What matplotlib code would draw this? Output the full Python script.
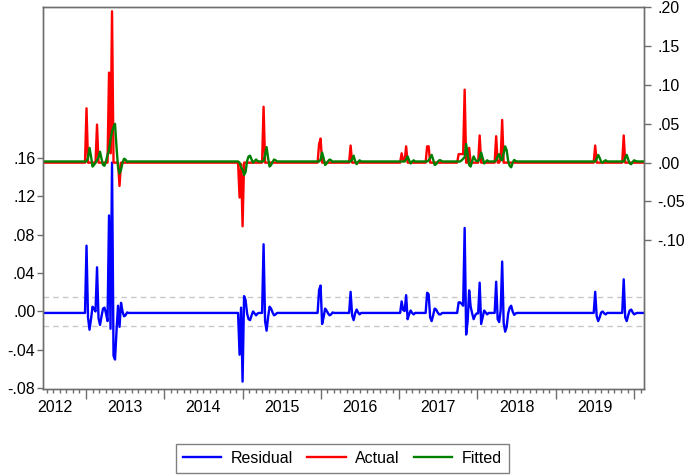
import numpy as np
import matplotlib
matplotlib.use('Agg')
import matplotlib.pyplot as plt
from matplotlib.ticker import MultipleLocator, FuncFormatter

plt.rcParams['font.family'] = ['Liberation Sans', 'DejaVu Sans']
plt.rcParams['font.size'] = 11.5

# weekly observations, decimal years
first_week = 2012.451
n_weeks = 401
week = 7 / 365.25

actual_base = 0.0
fitted_base = 0.0015

# runs of consecutive weekly values that leave the baseline
actual_starts = [2012.988, 2014.942, 2015.249, 2015.958, 2016.361, 2017.012,
                 2017.338, 2017.741, 2018.009, 2018.220, 2019.485, 2019.849]
actual_runs = [
    [0, 0.070, 0, 0, 0, 0, 0, 0, 0.049, 0, 0, 0, 0, 0, 0, 0, 0.116, 0.012, 0.195,
     0, 0, 0, 0, -0.030, 0],
    [0, -0.045, -0.002, -0.082, 0],
    [0, 0.072, 0],
    [0, 0.024, 0.031, 0],
    [0, 0.022, 0],
    [0, 0.012, 0.003, 0.002, 0.021, 0],
    [0, 0.021, 0.021, 0],
    [0, 0.011, 0.011, 0.011, 0.011, 0.094, 0, 0, 0.019, 0],
    [0, 0.035, 0],
    [0, 0.034, 0, 0, 0.005, 0.055, 0],
    [0, 0.022, 0],
    [0, 0.035, 0],
]

fitted_starts = [2012.988, 2014.942, 2015.268, 2015.997, 2016.399, 2017.089,
                 2017.376, 2017.798, 2018.220, 2019.523, 2019.887]
fitted_runs = [
    [0.0015, 0.0015, 0.006, 0.019, 0.008, -0.005, -0.003, 0.000, 0.003, 0.007,
     0.014, 0.005, -0.003, -0.004, 0.002, 0.010, 0.016, 0.030, 0.040, 0.046,
     0.050, 0.020, -0.006, -0.014, -0.009, 0.000, 0.005, 0.004, 0.001],
    [0.0015, 0.000, -0.006, -0.009, -0.016, -0.012, 0.002, 0.008, 0.009, 0.004,
     0.000, 0.002, 0.004, 0.002, 0.0015],
    [0.002, 0.010, 0.020, 0.006, -0.005, -0.003, 0.001, 0.004, 0.003, 0.0015],
    [0.004, 0.013, 0.006, -0.003, -0.001, 0.002, 0.004, 0.003, 0.001, 0.0015],
    [0.004, 0.009, 0.002, -0.002, 0.001, 0.003, 0.0015],
    [0.004, 0.008, 0.003, -0.001, 0.0015, 0.003, 0.0015],
    [0.003, 0.006, 0.010, 0.004, -0.003, -0.002, 0.001, 0.003, 0.003, 0.0015],
    [0.003, 0.005, 0.007, 0.024, 0.010, -0.003, -0.005, 0.002, 0.008, 0.004,
     0.002, 0.002, 0.005, 0.013, 0.006, -0.001, 0.001, 0.003, 0.0015],
    [0.0015, 0.003, 0.008, 0.011, 0.004, 0.003, 0.012, 0.021, 0.016, 0.002,
     -0.004, -0.006, 0.000, 0.0035, 0.002, 0.0015],
    [0.005, 0.010, 0.006, 0.001, 0.000, 0.002, 0.003, 0.0015],
    [0.006, 0.010, 0.004, -0.001, -0.002, 0.001, 0.003, 0.002, 0.0015],
]

year_labels = ['2012', '2013', '2014', '2015', '2016', '2017', '2018', '2019']
year_label_pos = [2012.604, 2013.5, 2014.5, 2015.5, 2016.5, 2017.5, 2018.5, 2019.5]
year_starts = [2013, 2014, 2015, 2016, 2017, 2018, 2019, 2020]
left_ticks = [-0.08, -0.04, 0.0, 0.04, 0.08, 0.12, 0.16]
right_ticks = [-0.10, -0.05, 0.0, 0.05, 0.10, 0.15, 0.20]
se_band = 0.015

# build the series
t = first_week + np.arange(n_weeks) * week
actual = np.full(n_weeks, actual_base)
fitted = np.full(n_weeks, fitted_base)
for start, vals in zip(actual_starts, actual_runs):
    i0 = int(round((start - first_week) / week))
    actual[i0:i0 + len(vals)] = vals
for start, vals in zip(fitted_starts, fitted_runs):
    i0 = int(round((start - first_week) / week))
    fitted[i0:i0 + len(vals)] = vals
residual = actual - fitted

fig = plt.figure(figsize=(6.85, 4.76), dpi=100)
ax = fig.add_axes([43 / 685, 86.7 / 476, 601 / 685, 382.3 / 476])
ax2 = ax.twinx()

spine_col = '#6e6e6e'

ax.axhline(se_band, color='#c8c8c8', lw=1, ls=(0, (4, 3)), zorder=1)
ax.axhline(-se_band, color='#c8c8c8', lw=1, ls=(0, (4, 3)), zorder=1)
l_res, = ax.plot(t, residual, color='#0000ff', lw=1.7, zorder=2)
l_act, = ax2.plot(t, actual, color='#ff0000', lw=1.7)
l_fit, = ax2.plot(t, fitted, color='#008000', lw=1.7)

ax.set_xlim(first_week, 2020.127)
ax.set_ylim(-0.081, 0.317)
ax2.set_ylim(-0.292, 0.2005)

fmt = FuncFormatter(lambda v, p: f"{v:.2f}".replace('0.', '.', 1))
ax.set_yticks(left_ticks)
ax.yaxis.set_major_formatter(fmt)
ax2.set_yticks(right_ticks)
ax2.yaxis.set_major_formatter(fmt)

ax.set_xticks(year_starts)
ax.set_xticklabels([''] * len(year_starts))
ax.xaxis.set_minor_locator(MultipleLocator(1 / 12))
ax.tick_params(axis='x', which='major', direction='out', length=7.5, width=1, color=spine_col)
ax.tick_params(axis='x', which='minor', direction='out', length=3, width=1, color=spine_col)
ax.tick_params(axis='y', direction='out', length=4, width=1, color=spine_col, pad=1.5)
ax2.tick_params(axis='y', direction='out', length=5, width=1, color=spine_col, pad=4.5)

for lab, pos in zip(year_labels, year_label_pos):
    ax.annotate(lab, xy=(pos, 0), xycoords=('data', 'axes fraction'),
                xytext=(0, -8), textcoords='offset points',
                ha='center', va='top')

for a in (ax, ax2):
    for s in a.spines.values():
        s.set_color(spine_col)
        s.set_linewidth(1)

leg = fig.legend([l_res, l_act, l_fit], ['Residual', 'Actual', 'Fitted'],
                 loc='center', bbox_to_anchor=(0.5, 0.037), ncol=3,
                 handlelength=2.4, handletextpad=0.6, columnspacing=0.9,
                 borderpad=0.45, fancybox=False, framealpha=1)
leg.get_frame().set_edgecolor('#808080')
leg.get_frame().set_linewidth(1)

fig.savefig('out.png', dpi=100)
